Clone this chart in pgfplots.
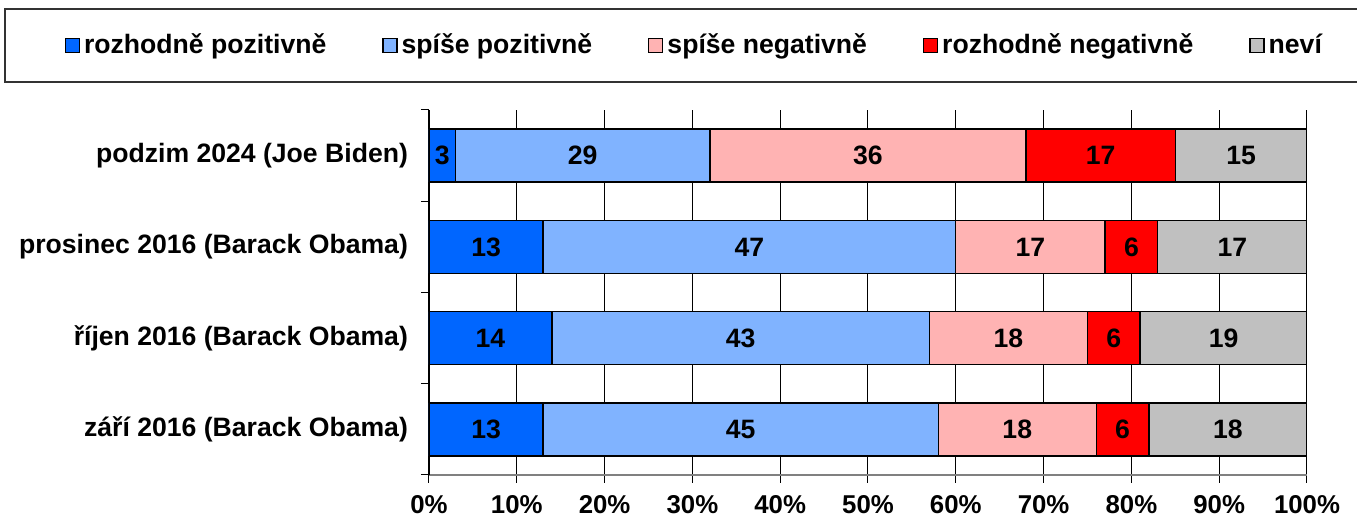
\documentclass[border=0pt]{standalone}
\usepackage{fontspec}
\setmainfont{Liberation Sans}
\usepackage{pgfplots}
\pgfplotsset{compat=1.18}
\definecolor{c1}{RGB}{0,102,255}
\definecolor{c2}{RGB}{128,179,255}
\definecolor{c3}{RGB}{255,179,179}
\definecolor{c4}{RGB}{255,0,0}
\definecolor{c5}{RGB}{192,192,192}
\begin{document}
\begin{tikzpicture}[font=\fontsize{13.3}{15}\selectfont\bfseries]
\useasboundingbox (-214.5pt,-21pt) rectangle (464pt,237.5pt);
\draw[black!80, line width=0.6pt] (-212pt,196.5pt) rectangle (470pt,233pt);
\begin{axis}[
  at={(0,0)}, anchor=south west,
  scale only axis, width=439pt, height=182.5pt,
  xbar stacked, bar width=26.5pt,
  xmin=0, xmax=100, ymin=-0.5, ymax=3.5,
  xtick={0,10,...,100},
  xticklabels={0\%,10\%,20\%,30\%,40\%,50\%,60\%,70\%,80\%,90\%,100\%},
  ytick={-0.5,0.5,1.5,2.5,3.5}, yticklabels={},
  extra y ticks={0,1,2,3},
  extra y tick labels={září 2016 (Barack Obama),říjen 2016 (Barack Obama),prosinec 2016 (Barack Obama),podzim 2024 (Joe Biden)},
  extra y tick style={major tick length=0pt, yticklabel style={xshift=-7pt}},
  tick align=outside, major tick length=4pt,
  xmajorgrids, major grid style={black, line width=0.5pt},
  axis x line*=bottom, axis y line*=left,
  x axis line style={-, gray, line width=0.9pt},
  y axis line style={-, black, line width=0.6pt},
  tick style={black, line width=0.5pt},
  /pgf/number format/assume math mode=true,
  tick label style={font=\fontsize{13.3}{15}\selectfont\bfseries},
  xticklabel style={yshift=-2.5pt, font=\fontsize{12.9}{15}\selectfont\bfseries},
  legend image code/.code={\draw[#1, line width=0.6pt] (0pt,-3.5pt) rectangle (7pt,3.5pt);},
  legend style={at={(0.3034,1.1767)}, anchor=center, draw=none, fill=none,
    legend columns=5, /tikz/every even column/.append style={column sep=26pt},
    font=\fontsize{13.3}{15}\selectfont\bfseries},
]
\addplot[fill=c1, draw=black, line width=0.7pt] coordinates {(13,0) (14,1) (13,2) (3,3)};
\addplot[fill=c2, draw=black, line width=0.7pt] coordinates {(45,0) (43,1) (47,2) (29,3)};
\addplot[fill=c3, draw=black, line width=0.7pt] coordinates {(18,0) (18,1) (17,2) (36,3)};
\addplot[fill=c4, draw=black, line width=0.7pt] coordinates {(6,0) (6,1) (6,2) (17,3)};
\addplot[fill=c5, draw=black, line width=0.7pt] coordinates {(18,0) (19,1) (17,2) (15,3)};
\legend{rozhodně pozitivně,spíše pozitivně,spíše negativně,rozhodně negativně,neví}
\end{axis}
\begin{axis}[
  at={(0,0)}, anchor=south west,
  scale only axis, width=439pt, height=182.5pt,
  xmin=0, xmax=100, ymin=-0.5, ymax=3.5, hide axis, clip=false]
\addplot[draw=none, mark=none, nodes near coords, point meta=explicit symbolic,
  every node near coord/.append style={anchor=center, font=\fontsize{13.3}{15}\selectfont\bfseries}]
  table[meta=v] {
x y v
6.5 0 13
35.5 0 45
67 0 18
79 0 6
91 0 18
7 1 14
35.5 1 43
66 1 18
78 1 6
90.5 1 19
6.5 2 13
36.5 2 47
68.5 2 17
80 2 6
91.5 2 17
1.5 3 3
17.5 3 29
50 3 36
76.5 3 17
92.5 3 15
};
\end{axis}
\end{tikzpicture}
\end{document}
